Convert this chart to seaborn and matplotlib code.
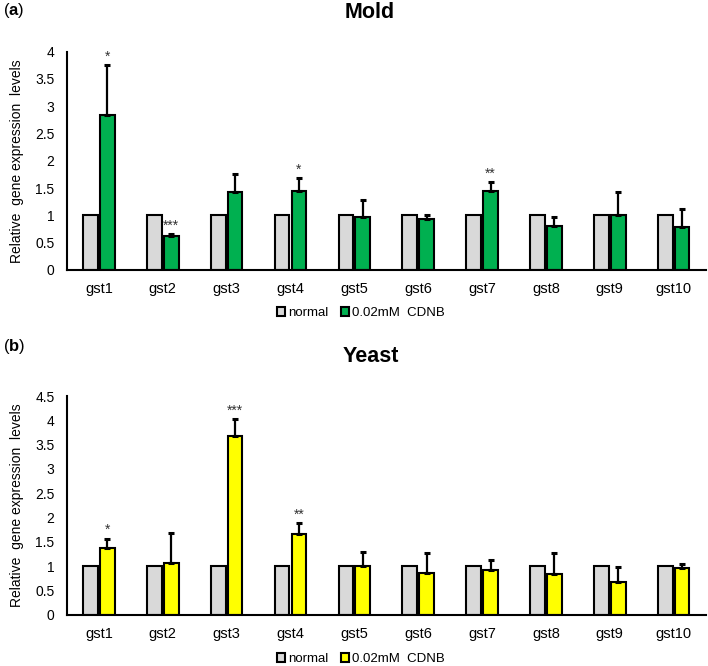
import matplotlib
matplotlib.use("Agg")
import matplotlib.pyplot as plt
from matplotlib.patches import Patch
from matplotlib.ticker import FormatStrFormatter, MultipleLocator
import seaborn as sns
import numpy as np
import pandas as pd

# データ
genes = ["gst1", "gst2", "gst3", "gst4", "gst5", "gst6", "gst7", "gst8", "gst9", "gst10"]
groups = ["normal", "0.02mM  CDNB"]

mold_normal = [1, 1, 1, 1, 1, 1, 1, 1, 1, 1]
mold_cdnb = [2.84, 0.63, 1.42, 1.45, 0.97, 0.93, 1.45, 0.81, 1.01, 0.79]
mold_err = [0.91, 0.03, 0.33, 0.24, 0.31, 0.08, 0.16, 0.16, 0.41, 0.32]
mold_stars = ["*", "***", "", "*", "", "", "**", "", "", ""]

yeast_normal = [1, 1, 1, 1, 1, 1, 1, 1, 1, 1]
yeast_cdnb = [1.38, 1.07, 3.68, 1.66, 1.00, 0.86, 0.92, 0.84, 0.68, 0.97]
yeast_err = [0.19, 0.62, 0.35, 0.23, 0.30, 0.42, 0.22, 0.44, 0.30, 0.08]
yeast_stars = ["*", "", "***", "**", "", "", "", "", "", ""]

sns.set_style("white")
plt.rcParams["font.family"] = ["Liberation Sans", "DejaVu Sans"]
plt.rcParams["mathtext.fontset"] = "custom"
plt.rcParams["mathtext.bf"] = "Liberation Sans:bold"
plt.rcParams["mathtext.rm"] = "Liberation Sans"
plt.rcParams["text.color"] = "black"
plt.rcParams["axes.labelcolor"] = "black"
plt.rcParams["xtick.color"] = "black"
plt.rcParams["ytick.color"] = "black"

fig = plt.figure(figsize=(7.08, 6.66), dpi=100)
ax1 = fig.add_axes([0.0946, 0.5946, 0.902, 0.3278])
ax2 = fig.add_axes([0.0946, 0.0766, 0.902, 0.3288])


def draw_panel(ax, normal, cdnb, err, stars, color, ymax):
    df = pd.DataFrame({
        "gene": genes * 2,
        "group": [groups[0]] * len(genes) + [groups[1]] * len(genes),
        "value": list(normal) + list(cdnb),
    })
    sns.barplot(data=df, x="gene", y="value", hue="group", ax=ax,
                palette=["#D9D9D9", color], saturation=1, width=0.53, gap=0.13,
                edgecolor="black", linewidth=1.5, errorbar=None, legend=False)
    # CDNB の棒の中心
    bars = ax.containers[1]
    xs = [b.get_x() + b.get_width() / 2 for b in bars]
    ax.errorbar(xs, cdnb, yerr=[np.zeros(len(err)), err], fmt="none",
                ecolor="black", elinewidth=1.6, capsize=2.3, capthick=2.2)
    for x, v, e, s in zip(xs, cdnb, err, stars):
        if s:
            ax.annotate(s, (x, v + e), xytext=(0, 1), textcoords="offset points",
                        ha="center", va="bottom", fontsize=10, color="#333333")
    ax.set_ylim(0, ymax)
    ax.set_xlim(-0.5, len(genes) - 0.5)
    ax.yaxis.set_major_locator(MultipleLocator(0.5))
    ax.yaxis.set_major_formatter(FormatStrFormatter("%g"))
    ax.tick_params(axis="both", length=0, labelsize=10)
    ax.tick_params(axis="x", pad=9, labelsize=10.5)
    ax.tick_params(axis="y", pad=9)
    ax.set_xlabel("")
    ax.set_ylabel("Relative  gene expression  levels", fontsize=10, labelpad=8)
    for sp in ["top", "right"]:
        ax.spines[sp].set_visible(False)
    for sp in ["left", "bottom"]:
        ax.spines[sp].set_color("black")
        ax.spines[sp].set_linewidth(1.5)


draw_panel(ax1, mold_normal, mold_cdnb, mold_err, mold_stars, "#00B050", 4)
draw_panel(ax2, yeast_normal, yeast_cdnb, yeast_err, yeast_stars, "#FFFF00", 4.5)

# タイトル
fig.text(370 / 708, 1 - 13 / 666, "Mold", ha="center", va="center",
         fontsize=15.5, fontweight="bold")
fig.text(371 / 708, 1 - 357 / 666, "Yeast", ha="center", va="center",
         fontsize=15.5, fontweight="bold")
fig.text(3 / 708, 1 - 11 / 666, r"($\bf{a}$)", ha="left", va="center", fontsize=12)
fig.text(3 / 708, 1 - 347 / 666, r"($\bf{b}$)", ha="left", va="center", fontsize=12)

# 凡例
for col, yc in [("#00B050", 313), ("#FFFF00", 659)]:
    handles = [Patch(facecolor="#D9D9D9", edgecolor="black", linewidth=1.5),
               Patch(facecolor=col, edgecolor="black", linewidth=1.5)]
    fig.legend(handles, groups, loc="center", bbox_to_anchor=(361 / 708, 1 - yc / 666),
               ncol=2, frameon=False, fontsize=9.5, handlelength=0.6, handleheight=0.6,
               handletextpad=0.2, columnspacing=1.0)

fig.savefig("out.png", dpi=100)
